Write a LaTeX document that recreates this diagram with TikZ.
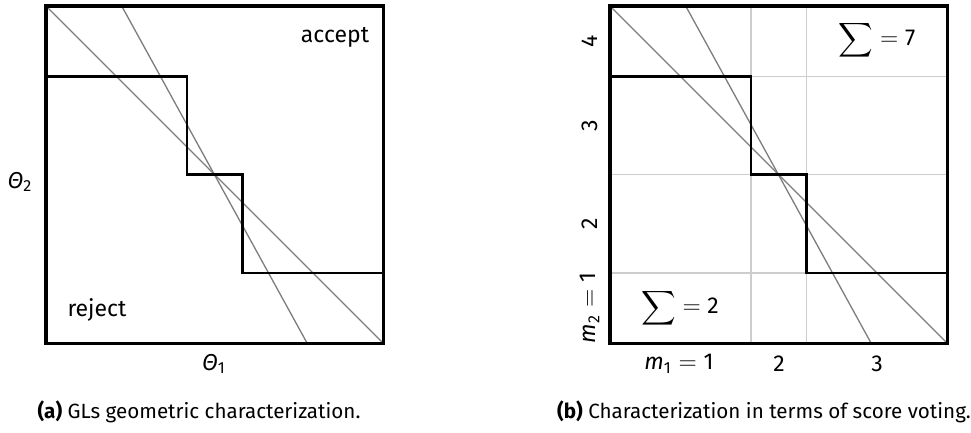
\documentclass[tikz,border=0pt]{standalone}
\usepackage{fontspec}
\setmainfont{Fira Sans}
\usepackage{amsmath}
\usepackage{tikz}
\usetikzlibrary{positioning}
\definecolor{LineGray}{RGB}{125,125,125}
\definecolor{GridGray}{RGB}{205,205,205}
\tikzset{
  frame/.style={line width=1.6pt},
  stair/.style={line width=1.1pt},
  split/.style={LineGray, line width=0.65pt},
  cell/.style={GridGray, line width=0.6pt},
  lbl/.style={inner sep=0pt, font=\fontsize{11.5}{13}\selectfont},
  capt/.style={inner sep=0pt, font=\fontsize{10.3}{12}\selectfont}
}
\begin{document}
\begin{tikzpicture}[x=0.5pt, y=-0.5pt]
  \def\bs{337.5} \def\sa{141} \def\sb{196.5}
  \def\ra{70.5} \def\rb{168.5} \def\rc{267}
  \useasboundingbox (0,0) rectangle (971,433);
  % Grid of the score panel
  \foreach \c in {\sa,\sb} {\draw[cell] (610+\c, 6) -- (610+\c, 6+\bs);}
  \foreach \r in {\ra,\rb,\rc} {\draw[cell] (610, 6+\r) -- (610+\bs, 6+\r);}
  % Both panels: separating lines, staircase, frame
  \foreach \ox in {46,610} {
      \draw[split] (\ox, 6) -- (\ox+\bs, 6+\bs);
      \draw[split] (\ox+75.7, 6) -- (\ox+261.3, 6+\bs);
      \draw[stair] (\ox, 6+\ra) -- (\ox+\sa, 6+\ra) -- (\ox+\sa, 6+\rb) -- (\ox+\sb, 6+\rb)
      -- (\ox+\sb, 6+\rc) -- (\ox+\bs, 6+\rc);
      \draw[frame] (\ox, 6) rectangle (\ox+\bs, 6+\bs);
    }
  % Left panel labels
  \node[lbl] (accept) at (335, 37) {accept};
  \node[lbl] (reject) at (97, 310) {reject};
  \node[lbl] (theta2) at (20, 182) {\textit{Θ}\textsubscript{2}};
  \node[lbl] (theta1) at (214, 364) {\textit{Θ}\textsubscript{1}};
  % Right panel labels
  \node[lbl] (sumhi) at (877, 40) {$\displaystyle\sum = \mbox{7}$};
  \node[lbl] (sumlo) at (680, 308) {$\displaystyle\sum = \mbox{2}$};
  \node[lbl] (m1) at (679, 364) {$\mbox{\textit{m}\textsubscript{1}} = \mbox{1}$};
  \node[lbl] (m1b) at (779, 364) {2};
  \node[lbl] (m1c) at (877, 364) {3};
  \node[lbl, rotate=90] (m2) at (590, 308) {$\mbox{\textit{m}\textsubscript{2}} = \mbox{1}$};
  \node[lbl, rotate=90] (m2b) at (590, 224) {2};
  \node[lbl, rotate=90] (m2c) at (590, 125.5) {3};
  \node[lbl, rotate=90] (m2d) at (590, 41) {4};
  % Captions
  \node[capt] (capa) at (199, 412) {\textbf{(a)} GLs geometric characterization.};
  \node[capt] (capb) at (764, 412) {\textbf{(b)} Characterization in terms of score voting.};
\end{tikzpicture}
\end{document}
